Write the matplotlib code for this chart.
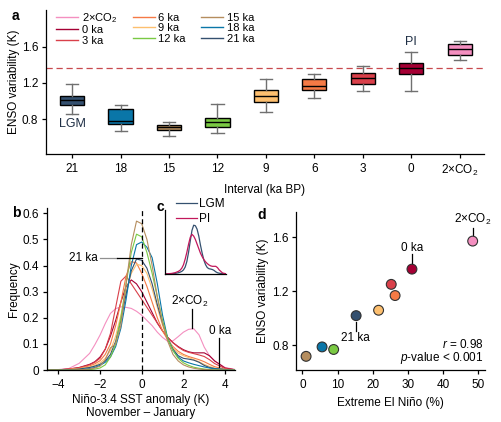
import matplotlib
matplotlib.use('Agg')
import matplotlib.pyplot as plt
import numpy as np
from matplotlib.lines import Line2D

plt.rcParams['font.family'] = ['Liberation Sans', 'DejaVu Sans']
plt.rcParams['font.size'] = 8.5
plt.rcParams['mathtext.fontset'] = 'custom'
plt.rcParams['mathtext.rm'] = 'Liberation Sans'
plt.rcParams['mathtext.it'] = 'Liberation Sans:italic'
plt.rcParams['axes.linewidth'] = 0.9
plt.rcParams['xtick.major.width'] = 0.9
plt.rcParams['ytick.major.width'] = 0.9
plt.rcParams['xtick.major.size'] = 3
plt.rcParams['ytick.major.size'] = 3
plt.rcParams['ytick.major.pad'] = 2.5

# ---- data ----
intervals = ['21', '18', '15', '12', '9', '6', '3', '0', '2×CO$_2$']
names = ['21 ka', '18 ka', '15 ka', '12 ka', '9 ka', '6 ka', '3 ka', '0 ka', '2×CO$_2$']
colors = ['#34506f', '#0a76a8', '#b58d5e', '#7ac943', '#fdbf6f',
          '#f57a45', '#d9404a', '#a50034', '#f48fc0']

# ENSO variability box stats (K)
whis_hi = [1.189, 0.956, 0.771, 0.974, 1.239, 1.298, 1.392, 1.541, 1.658]
q3 = [1.062, 0.917, 0.742, 0.819, 1.124, 1.239, 1.309, 1.418, 1.625]
med = [1.018, 0.786, 0.716, 0.767, 1.058, 1.167, 1.250, 1.363, 1.571]
q1 = [0.960, 0.753, 0.688, 0.713, 0.996, 1.124, 1.189, 1.301, 1.508]
whis_lo = [0.862, 0.677, 0.615, 0.651, 0.880, 1.032, 1.113, 1.116, 1.457]
pi_level = 1.363

# extreme El Nino frequency (%)
extreme = [15.3, 5.6, 1.05, 8.9, 21.7, 26.4, 25.3, 31.2, 48.5]

# SST anomaly distributions (read at these anomalies, K)
sst = [-4.5, -4, -3.5, -3, -2.5, -2.25, -2, -1.75, -1.5, -1.25, -1, -0.75, -0.5, -0.25,
       0, 0.25, 0.5, 0.75, 1, 1.25, 1.5, 1.75, 2, 2.25, 2.5, 2.75, 3, 3.25, 3.5, 4, 4.5]
freq = {
    '2×CO$_2$': [0, 0.002, 0.006, 0.026, 0.064, 0.097, 0.134, 0.178, 0.217, 0.235, 0.242, 0.240,
                 0.236, 0.225, 0.210, 0.190, 0.170, 0.145, 0.125, 0.110, 0.112, 0.128, 0.145,
                 0.156, 0.158, 0.135, 0.088, 0.055, 0.035, 0.010, 0.002],
    '0 ka': [0, 0.001, 0.004, 0.010, 0.022, 0.032, 0.050, 0.080, 0.130, 0.190, 0.260, 0.320,
             0.345, 0.330, 0.300, 0.260, 0.220, 0.180, 0.150, 0.125, 0.105, 0.090, 0.078,
             0.070, 0.066, 0.066, 0.066, 0.055, 0.035, 0.008, 0.001],
    '3 ka': [0, 0.001, 0.004, 0.009, 0.020, 0.030, 0.045, 0.080, 0.140, 0.240, 0.340, 0.360,
             0.330, 0.300, 0.270, 0.240, 0.210, 0.180, 0.150, 0.125, 0.105, 0.088, 0.075,
             0.068, 0.063, 0.058, 0.052, 0.040, 0.025, 0.006, 0.001],
    '6 ka': [0, 0.001, 0.003, 0.007, 0.016, 0.024, 0.036, 0.060, 0.100, 0.170, 0.260, 0.360,
             0.415, 0.410, 0.370, 0.320, 0.260, 0.200, 0.150, 0.115, 0.090, 0.072, 0.060,
             0.052, 0.046, 0.040, 0.032, 0.022, 0.013, 0.003, 0],
    '9 ka': [0, 0, 0.002, 0.005, 0.012, 0.018, 0.028, 0.045, 0.075, 0.130, 0.210, 0.300,
             0.370, 0.405, 0.400, 0.370, 0.310, 0.240, 0.170, 0.120, 0.085, 0.065, 0.055,
             0.048, 0.040, 0.032, 0.022, 0.014, 0.008, 0.002, 0],
    '21 ka': [0, 0, 0.001, 0.004, 0.010, 0.015, 0.022, 0.035, 0.060, 0.110, 0.190, 0.290,
              0.380, 0.425, 0.420, 0.390, 0.330, 0.250, 0.180, 0.120, 0.080, 0.055, 0.045,
              0.042, 0.038, 0.030, 0.018, 0.010, 0.006, 0.002, 0],
    '18 ka': [0, 0, 0.001, 0.002, 0.006, 0.010, 0.018, 0.030, 0.050, 0.090, 0.160, 0.270,
              0.400, 0.480, 0.490, 0.470, 0.430, 0.330, 0.210, 0.120, 0.075, 0.050, 0.035,
              0.028, 0.022, 0.017, 0.012, 0.008, 0.005, 0.002, 0],
    '12 ka': [0, 0, 0, 0, 0.002, 0.004, 0.008, 0.020, 0.050, 0.100, 0.200, 0.330, 0.450,
              0.520, 0.510, 0.450, 0.370, 0.280, 0.190, 0.120, 0.075, 0.045, 0.028, 0.018,
              0.011, 0.007, 0.004, 0.002, 0.001, 0, 0],
    '15 ka': [0, 0, 0, 0.001, 0.004, 0.008, 0.015, 0.040, 0.085, 0.100, 0.170, 0.330, 0.480,
              0.570, 0.560, 0.500, 0.400, 0.280, 0.180, 0.110, 0.060, 0.035, 0.020, 0.012,
              0.007, 0.004, 0.002, 0.001, 0, 0, 0],
}

col_of = dict(zip(names, colors))

fig = plt.figure(figsize=(5.01, 4.22), dpi=100)

# ---- panel a ----
ax = fig.add_axes([0.0918, 0.635, 0.874, 0.341])
pos = np.arange(len(intervals))
stats = []
for i in range(len(intervals)):
    stats.append(dict(med=med[i], q1=q1[i], q3=q3[i], whislo=whis_lo[i], whishi=whis_hi[i]))
bp = ax.bxp(stats, positions=pos, widths=0.5, capwidths=0.25, showfliers=False,
            patch_artist=True,
            boxprops=dict(edgecolor='black', linewidth=1.0),
            medianprops=dict(color='black', linewidth=1.0),
            whiskerprops=dict(color='#707070', linewidth=1.0),
            capprops=dict(color='#707070', linewidth=1.0))
for patch, c in zip(bp['boxes'], colors):
    patch.set_facecolor(c)
ax.axhline(pi_level, color='#c8494f', lw=0.9, ls=(0, (5, 3)), zorder=0)
ax.set_xlim(-0.54, 8.5)
ax.set_ylim(0.42, 2.0)
ax.set_xticks(pos)
ax.set_xticklabels(intervals)
ax.set_yticks([0.8, 1.2, 1.6])
ax.set_ylabel('ENSO variability (K)', labelpad=1)
ax.set_xlabel('Interval (ka BP)', labelpad=4)
ax.spines['top'].set_visible(False)
ax.spines['right'].set_visible(False)
ax.text(0, 0.745, 'LGM', ha='center', va='center', fontsize=9, color='#1f2f45')
ax.text(7, 1.65, 'PI', ha='center', va='center', fontsize=9, color='#1f2f45')
leg_order = ['2×CO$_2$', '0 ka', '3 ka', '6 ka', '9 ka', '12 ka', '15 ka', '18 ka', '21 ka']
handles = [Line2D([], [], color=col_of[n], lw=1.0) for n in leg_order]
ax.legend(handles, leg_order, ncol=3, frameon=False, loc='upper left',
          bbox_to_anchor=(0.0, 1.065), handlelength=2.0, handletextpad=0.3,
          columnspacing=1.4, labelspacing=0.05, fontsize=8)
fig.text(0.024, 0.962, 'a', fontweight='bold', fontsize=10, va='center')

# ---- panel b ----
axb = fig.add_axes([0.0932, 0.123, 0.376, 0.384])
for n in ['2×CO$_2$', '0 ka', '3 ka', '6 ka', '9 ka', '21 ka', '18 ka', '12 ka', '15 ka']:
    axb.plot(sst, freq[n], color=col_of[n], lw=0.8)
axb.axvline(0, color='black', lw=0.9, ls=(0, (4, 2.5)))
axb.set_xlim(-4.56, 4.48)
axb.set_ylim(0, 0.62)
axb.set_xticks([-4, -2, 0, 2, 4])
axb.set_yticks([0, 0.1, 0.2, 0.3, 0.4, 0.5, 0.6])
axb.set_yticklabels(['0', '0.1', '0.2', '0.3', '0.4', '0.5', '0.6'])
axb.set_ylabel('Frequency', labelpad=2)
axb.set_xlabel('Niño-3.4 SST anomaly (K)\nNovember – January', labelpad=2, linespacing=1.1)
axb.spines['top'].set_visible(False)
axb.spines['right'].set_visible(False)
axb.plot([-2.0, -1.2], [0.428, 0.428], color='#909090', lw=0.9)
axb.plot([-1.2, 0], [0.428, 0.428], color='black', lw=0.9)
axb.text(-2.1, 0.428, '21 ka', ha='right', va='center')
axb.plot([2.4, 2.4], [0.232, 0.16], color='black', lw=0.9)
axb.text(2.3, 0.264, '2×CO$_2$', ha='center', va='center')
axb.plot([3.73, 3.73], [0.121, 0.013], color='black', lw=0.9)
axb.text(3.77, 0.149, '0 ka', ha='center', va='center')
fig.text(0.024, 0.495, 'b', fontweight='bold', fontsize=10, va='center')

# ---- inset c ----
axc = fig.add_axes([0.329, 0.351, 0.122, 0.152])
axc.plot(sst, freq['21 ka'], color=col_of['21 ka'], lw=0.9, label='LGM')
axc.plot(sst, freq['0 ka'], color='#c2185b', lw=0.9, label='PI')
axc.set_xlim(-4.5, 4.5)
axc.set_ylim(0, 0.56)
axc.set_xticks([])
axc.set_yticks([])
axc.spines['top'].set_visible(False)
axc.spines['right'].set_visible(False)
axc.legend(frameon=False, loc='upper left', bbox_to_anchor=(0.04, 1.31), handlelength=1.8,
           handletextpad=0.2, labelspacing=0.25, fontsize=8.5, borderpad=0.2)
fig.text(0.312, 0.509, 'c', fontweight='bold', fontsize=10, va='center')

# ---- panel d ----
axd = fig.add_axes([0.591, 0.123, 0.377, 0.375])
axd.scatter(extreme, med, c=colors, s=50, edgecolors='#303030', linewidths=0.8, zorder=3)
axd.set_xlim(-1.8, 52)
axd.set_ylim(0.614, 1.788)
axd.set_xticks([0, 10, 20, 30, 40, 50])
axd.set_yticks([0.8, 1.2, 1.6])
axd.set_xlabel('Extreme El Niño (%)', labelpad=4)
axd.set_ylabel('ENSO variability (K)', labelpad=2)
axd.spines['top'].set_visible(False)
axd.spines['right'].set_visible(False)
axd.plot([48.5, 48.5], [1.669, 1.61], color='black', lw=0.9)
axd.text(48.5, 1.729, '2×CO$_2$', ha='center', va='center')
axd.plot([31.2, 31.2], [1.476, 1.40], color='black', lw=0.9)
axd.text(31.2, 1.518, '0 ka', ha='center', va='center')
axd.plot([15.3, 15.3], [0.971, 0.904], color='black', lw=0.9)
axd.text(15.2, 0.854, '21 ka', ha='center', va='center')
axd.text(51.5, 0.807, '$r$ = 0.98', ha='right', va='center')
axd.text(51.5, 0.701, '$p$-value < 0.001', ha='right', va='center')
fig.text(0.513, 0.49, 'd', fontweight='bold', fontsize=10, va='center')

fig.savefig('out.png', dpi=100)
